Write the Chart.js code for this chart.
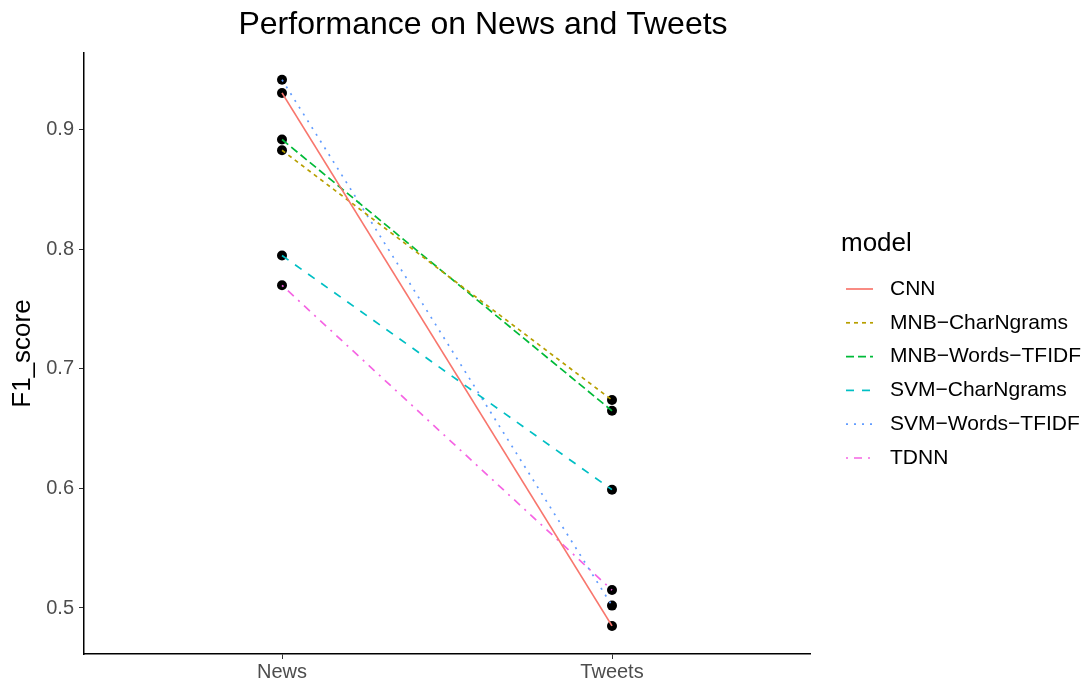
<!DOCTYPE html>
<html>
<head>
<meta charset="utf-8">
<script src="https://cdn.jsdelivr.net/npm/chart.js@4"></script>
<style>
  html, body { margin: 0; padding: 0; background: #fff; }
  #wrap { width: 1092px; height: 686px; }
</style>
</head>
<body>
<div id="wrap"><canvas id="myChart" width="1092" height="686"></canvas></div>
<script>
  // data
  let models = ['CNN', 'MNB\u2212CharNgrams', 'MNB\u2212Words\u2212TFIDF', 'SVM\u2212CharNgrams', 'SVM\u2212Words\u2212TFIDF', 'TDNN']
  let sources = ['News', 'Tweets']
  let newsScore = [0.931, 0.883, 0.892, 0.795, 0.942, 0.770]
  let tweetsScore = [0.485, 0.674, 0.665, 0.599, 0.502, 0.515]
  let yTicks = [0.5, 0.6, 0.7, 0.8, 0.9]

  let colors = ['#F8766D', '#B79F00', '#00BA38', '#00BFC4', '#619CFF', '#F564E3']
  let dashes = [[], [4, 4], [8, 4], [8, 8], [2, 6], [2, 6, 8, 6]]

  const font = "'Liberation Sans', Arial, Helvetica, sans-serif"

  let lineSets = models.map((m, i) => ({
    label: m,
    data: [{x: 1, y: newsScore[i]}, {x: 2, y: tweetsScore[i]}],
    borderColor: colors[i],
    borderDash: dashes[i],
    borderWidth: 1.7,
    pointRadius: 0,
    fill: false,
    order: 0
  }))

  let pointData = []
  models.forEach((m, i) => {
    pointData.push({x: 1, y: newsScore[i]})
    pointData.push({x: 2, y: tweetsScore[i]})
  })

  const titleAndLegend = {
    id: 'titleAndLegend',
    afterDraw(chart) {
      const c = chart.ctx
      c.save()
      c.fillStyle = '#000'
      c.textBaseline = 'middle'
      c.textAlign = 'center'
      c.font = '32px ' + font
      c.fillText('Performance on News and Tweets', 483, 25)

      c.textAlign = 'left'
      c.font = '26px ' + font
      c.fillText('model', 841, 244)

      c.font = '21px ' + font
      models.forEach((m, i) => {
        let y = 289 + i * 33.8
        c.strokeStyle = colors[i]
        c.lineWidth = 1.7
        c.setLineDash(dashes[i])
        c.beginPath()
        c.moveTo(846, y)
        c.lineTo(873, y)
        c.stroke()
        c.fillText(m, 890, y)
      })
      c.restore()
    }
  }

  let ctx = document.getElementById('myChart')

  new Chart(ctx, {
    type: 'line',
    data: {
      datasets: [
        {
          label: 'points',
          data: pointData,
          showLine: false,
          pointRadius: 5,
          pointBackgroundColor: '#000',
          pointBorderColor: '#000',
          pointBorderWidth: 0,
          order: 10
        },
        ...lineSets
      ]
    },
    options: {
      responsive: false,
      animation: false,
      layout: { padding: { top: 53, right: 282, left: 0, bottom: 0 } },
      plugins: {
        legend: { display: false },
        tooltip: { enabled: false },
        title: { display: false }
      },
      scales: {
        x: {
          type: 'linear',
          min: 0.4,
          max: 2.6,
          afterBuildTicks: (scale) => { scale.ticks = [{value: 1}, {value: 2}] },
          afterFit: (scale) => { scale.height = 32 },
          ticks: {
            callback: (v) => sources[v - 1],
            color: '#4D4D4D',
            font: { family: font, size: 20 },
            padding: 1,
            maxRotation: 0
          },
          grid: { drawOnChartArea: false, drawTicks: true, tickLength: 5, color: '#333' },
          border: { display: true, color: '#000', width: 1.5 }
        },
        y: {
          type: 'linear',
          min: 0.4615,
          max: 0.9644,
          afterBuildTicks: (scale) => { scale.ticks = yTicks.map(v => ({value: v})) },
          afterFit: (scale) => { scale.width = 84 },
          ticks: {
            callback: (v) => v.toFixed(1),
            color: '#4D4D4D',
            font: { family: font, size: 20 },
            padding: 5
          },
          grid: { drawOnChartArea: false, drawTicks: true, tickLength: 5, color: '#333' },
          border: { display: true, color: '#000', width: 1.5 },
          title: {
            display: true,
            text: 'F1_score',
            color: '#000',
            font: { family: font, size: 26 },
            padding: { top: 7, bottom: 0 }
          }
        }
      }
    },
    plugins: [titleAndLegend]
  })
</script>
</body>
</html>
